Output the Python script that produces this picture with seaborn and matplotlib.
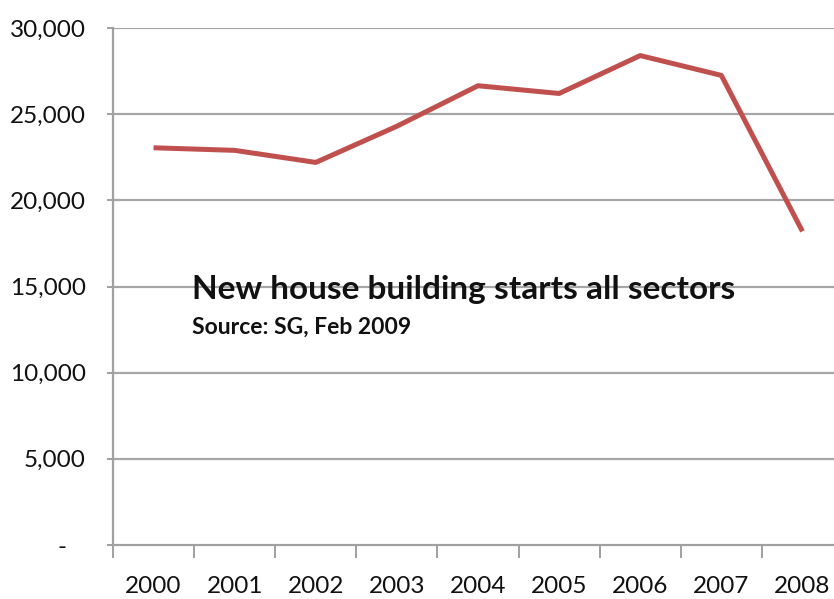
import matplotlib
matplotlib.use("Agg")
import matplotlib.pyplot as plt
import seaborn as sns
import pandas as pd
from matplotlib.ticker import FixedLocator, FuncFormatter

years = [2000, 2001, 2002, 2003, 2004, 2005, 2006, 2007, 2008]
starts = [23050, 22900, 22200, 24300, 26650, 26200, 28400, 27250, 18200]
y_ticks = [0, 5000, 10000, 15000, 20000, 25000, 30000]
title_text = "New house building starts all sectors"
subtitle_text = "Source: SG, Feb 2009"

df = pd.DataFrame({"year": years, "starts": starts})

sns.set_style("white")
plt.rcParams["font.family"] = ["Lato", "DejaVu Sans"]

fig = plt.figure(figsize=(8.34, 5.99), dpi=100)
ax = fig.add_axes([113/834, 54/599, (843-113)/834, (545-28)/599])

grid_c = "#a6a6a6"
for v in y_ticks[1:]:
    ax.axhline(v, color=grid_c, lw=1.6, zorder=1)

sns.lineplot(data=df, x="year", y="starts", ax=ax, color="#C0504D", lw=3.6,
             zorder=3, solid_capstyle="butt")

ax.set_xlim(1999.5, 2008.5)
ax.set_ylim(0, 30000)

ax.set_xticks(years)
ax.set_xticklabels([str(y) for y in years])
ax.xaxis.set_minor_locator(FixedLocator([y - 0.5 for y in years]))
ax.tick_params(axis="x", which="major", length=0, pad=22, labelsize=17.5, labelcolor="#111111")
ax.tick_params(axis="x", which="minor", length=9, width=1.4, color="#a0a0a0", direction="out", bottom=True)

ax.set_yticks(y_ticks)
ax.yaxis.set_major_formatter(FuncFormatter(lambda v, p: "-   " if v == 0 else f"{int(v):,}"))
ax.tick_params(axis="y", which="major", length=4.5, width=1.4, color="#a0a0a0", pad=15,
               labelsize=17.5, labelcolor="#111111", left=True)

for s in ["top", "right"]:
    ax.spines[s].set_visible(False)
for s in ["left", "bottom"]:
    ax.spines[s].set_color("#a0a0a0")
    ax.spines[s].set_linewidth(1.6)

ax.set_xlabel("")
ax.set_ylabel("")

fig.text(192/834, 1 - 299/599, title_text, fontsize=24, fontweight="bold", color="#111111",
         ha="left", va="baseline")
fig.text(192/834, 1 - 334/599, subtitle_text, fontsize=16.5, fontweight="bold", color="#111111",
         ha="left", va="baseline")

fig.savefig("out.png", dpi=100)
